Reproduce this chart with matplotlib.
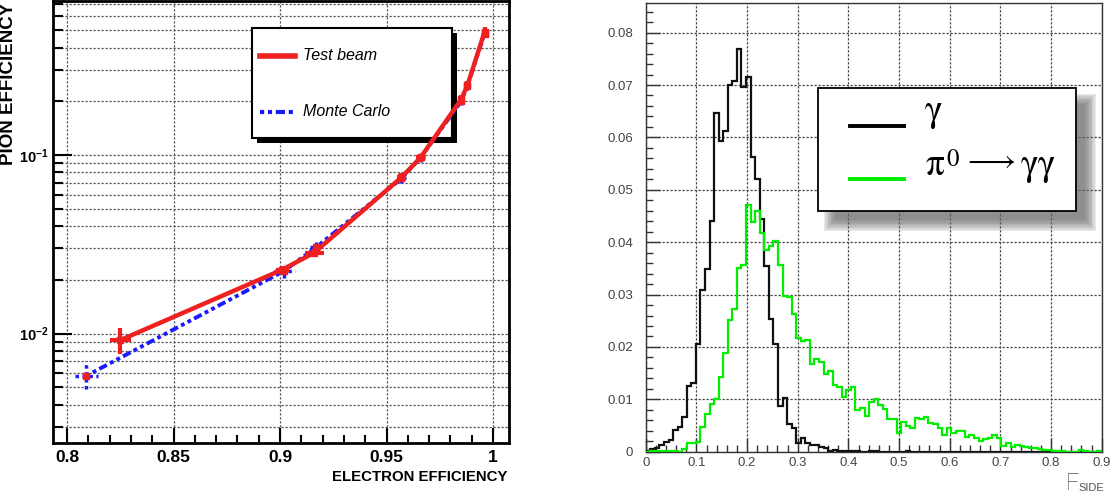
import matplotlib
matplotlib.use('Agg')
import matplotlib.pyplot as plt
import numpy as np
from matplotlib.patches import Rectangle
from matplotlib.lines import Line2D
from matplotlib.ticker import FixedLocator, MultipleLocator, FuncFormatter, NullFormatter

# ---------------- data: left panel (pion vs electron efficiency) ----------------
tb_x = [0.825, 0.901, 0.916, 0.957, 0.966, 0.985, 0.988, 0.996]
tb_y = [0.0092, 0.0228, 0.0284, 0.075, 0.097, 0.205, 0.246, 0.49]
tb_xerr = [0.005, 0.003, 0.0045, 0.002, 0.002, 0.001, 0.001, 0.001]
tb_yerr = [0.0015, 0.0012, 0.0015, 0.004, 0.005, 0.012, 0.015, 0.03]

mc_x = [0.809, 0.902, 0.917, 0.957, 0.966, 0.985, 0.988, 0.996]
mc_y = [0.0058, 0.0225, 0.0305, 0.074, 0.097, 0.20, 0.245, 0.48]
mc_xerr = [0.0055, 0.005, 0.003, 0.002, 0.002, 0.001, 0.001, 0.001]
mc_yerr_lo = [0.0009, 0.0021, 0.002, 0.004, 0.005, 0.01, 0.012, 0.02]
mc_yerr_hi = [0.0012, 0.0022, 0.002, 0.004, 0.005, 0.01, 0.012, 0.02]

left_xticks = [0.8, 0.85, 0.9, 0.95, 1.0]
left_xticklabels = ['0.8', '0.85', '0.9', '0.95', '1']

# ---------------- data: right panel (F_SIDE histograms, 100 bins on 0..0.9) ----------------
hist_lo, hist_hi, hist_nbins = 0.0, 0.9, 100
gamma_vals = [
    0.0002, 0.0005, 0.0007, 0.0012, 0.0018, 0.0022, 0.0041, 0.0047, 0.0066, 0.0126,
    0.0131, 0.0205, 0.0308, 0.0348, 0.0441, 0.0647, 0.0593, 0.0613, 0.0700, 0.0707,
    0.0769, 0.0696, 0.0715, 0.0563, 0.0521, 0.0444, 0.0355, 0.0254, 0.0206, 0.0087,
    0.0103, 0.0053, 0.0045, 0.0017, 0.0026, 0.0017, 0.0012, 0.0013, 0.0009, 0.0008,
    0.0002, 0.0003, 0.0002, 0.0001, 0.0002, 0.0001, 0.0002, 0.0, 0.0, 0.0002,
    0.0001, 0.0, 0.0, 0.0, 0.0, 0.0, 0.0, 0.0002, 0.0, 0.0,
    0.0, 0.0, 0.0, 0.0, 0.0, 0.0, 0.0, 0.0, 0.0, 0.0,
    0.0, 0.0, 0.0, 0.0, 0.0, 0.0, 0.0, 0.0, 0.0, 0.0,
    0.0, 0.0, 0.0, 0.0, 0.0, 0.0, 0.0, 0.0, 0.0, 0.0,
    0.0, 0.0, 0.0, 0.0, 0.0, 0.0, 0.0, 0.0, 0.0, 0.0,
]
pi0_vals = [
    0.0, 0.0001, 0.0001, 0.0002, 0.0002, 0.0002, 0.0002, 0.0, 0.0005, 0.0017,
    0.0017, 0.0019, 0.0048, 0.0072, 0.0092, 0.0101, 0.0143, 0.0188, 0.0252, 0.0272,
    0.0350, 0.0356, 0.0471, 0.0439, 0.0460, 0.0418, 0.0385, 0.0393, 0.0403, 0.0356,
    0.0297, 0.0295, 0.0263, 0.0218, 0.0212, 0.0214, 0.0168, 0.0177, 0.0172, 0.0148,
    0.0154, 0.0127, 0.0124, 0.0105, 0.0118, 0.0124, 0.0080, 0.0083, 0.0068, 0.0095,
    0.0100, 0.0090, 0.0082, 0.0062, 0.0062, 0.0035, 0.0057, 0.0050, 0.0046, 0.0064,
    0.0062, 0.0066, 0.0055, 0.0053, 0.0046, 0.0032, 0.0046, 0.0036, 0.0039, 0.0039,
    0.0029, 0.0032, 0.0026, 0.0021, 0.0025, 0.0026, 0.0032, 0.0027, 0.0011, 0.0016,
    0.0009, 0.0012, 0.0011, 0.0009, 0.0008, 0.0008, 0.0005, 0.0003, 0.0003, 0.0002,
    0.0001, 0.0001, 0.0, 0.0, 0.0, 0.0003, 0.0002, 0.0, 0.0, 0.0001,
]
right_xticks = [0, 0.1, 0.2, 0.3, 0.4, 0.5, 0.6, 0.7, 0.8, 0.9]
right_yticks = [0, 0.01, 0.02, 0.03, 0.04, 0.05, 0.06, 0.07, 0.08]

# ---------------- fonts ----------------
SANS = ['Liberation Sans', 'DejaVu Sans']
SERIF = ['STIXGeneral', 'DejaVu Serif', 'DejaVu Sans']
plt.rcParams['font.family'] = SANS
plt.rcParams['mathtext.fontset'] = 'custom'
plt.rcParams['mathtext.rm'] = 'Liberation Sans'
plt.rcParams['mathtext.bf'] = 'Liberation Sans:bold'
plt.rcParams['mathtext.it'] = 'Liberation Sans:italic'

W, H = 1111, 495
fig = plt.figure(figsize=(W / 100, H / 100), dpi=100)
fig.patch.set_facecolor('white')


def fx(px):
    return px / W


def fy(py):
    return 1 - py / H


grid_ls = (0, (1.8, 1.4))
mc_ls = (0, (1, 0.9, 1, 0.9, 2.2, 0.9))

# =============================== LEFT PANEL ===============================
axL = fig.add_axes([fx(53), fy(443), fx(509) - fx(53), fy(1) - fy(443)])
axL.set_yscale('log')
axL.set_xlim(0.7934, 1.0075)
axL.set_ylim(0.00244, 0.73)
axL.set_axisbelow(True)

for s in axL.spines.values():
    s.set_linewidth(2.0)
    s.set_color('black')

axL.xaxis.set_major_locator(FixedLocator(left_xticks))
axL.xaxis.set_major_formatter(FuncFormatter(
    lambda v, p: left_xticklabels[left_xticks.index(round(v, 2))] if round(v, 2) in left_xticks else ''))
axL.xaxis.set_minor_locator(MultipleLocator(0.01))
axL.yaxis.set_major_locator(FixedLocator([0.01, 0.1]))
axL.yaxis.set_major_formatter(FuncFormatter(lambda v, p: r'$\mathbf{10^{-%d}}$' % round(-np.log10(v))))
minor_y = [m * 10.0 ** e for e in (-3, -2, -1) for m in range(2, 10)]
axL.yaxis.set_minor_locator(FixedLocator(minor_y))
axL.yaxis.set_minor_formatter(NullFormatter())

axL.tick_params(which='both', direction='in', top=False, right=False, width=1.5, color='black')
axL.tick_params(axis='x', which='major', length=11, pad=5, labelsize=12.5)
axL.tick_params(axis='x', which='minor', length=6)
axL.tick_params(axis='y', which='major', length=14, pad=3, labelsize=10.5)
axL.tick_params(axis='y', which='minor', length=7)
for lab in axL.get_xticklabels():
    lab.set_fontweight('bold')

axL.grid(True, which='major', axis='x', linestyle=grid_ls, color='#555555', linewidth=0.9)
axL.grid(True, which='both', axis='y', linestyle=grid_ls, color='#555555', linewidth=0.9)

# Monte Carlo (blue dotted line, red markers, blue dotted error bars)
mc = axL.errorbar(mc_x, mc_y, xerr=mc_xerr, yerr=[mc_yerr_lo, mc_yerr_hi], fmt='none',
                  ecolor='#1a1aff', elinewidth=2.5, capsize=0, zorder=3)
for bc in mc[2]:
    bc.set_linestyle((0, (1, 1)))
axL.plot(mc_x, mc_y, color='#1a1aff', linewidth=2.8, linestyle=mc_ls, zorder=3)
axL.plot(mc_x, mc_y, linestyle='none', marker='s', markersize=5, color='#ee2020', zorder=4)

# Test beam (red solid line with error bars)
axL.errorbar(tb_x, tb_y, xerr=tb_xerr, yerr=tb_yerr, fmt='none', ecolor='#ee2020',
             elinewidth=3, capsize=0, zorder=5)
axL.plot(tb_x, tb_y, color='#ee2020', linewidth=3.2, marker='s', markersize=5, zorder=5)

# left legend (drawn under the curves)
axL.add_patch(Rectangle((fx(257), fy(143)), fx(457) - fx(257), fy(33) - fy(143),
                        transform=fig.transFigure, facecolor='black', edgecolor='none', zorder=1.5))
axL.add_patch(Rectangle((fx(252), fy(138)), fx(452) - fx(252), fy(28) - fy(138),
                        transform=fig.transFigure, facecolor='white', edgecolor='black',
                        linewidth=1.5, zorder=1.6))
axL.add_line(Line2D([fx(260), fx(295)], [fy(56), fy(56)], transform=fig.transFigure,
                    color='#ee2020', linewidth=4, zorder=1.7))
axL.add_line(Line2D([fx(260), fx(295)], [fy(112), fy(112)], transform=fig.transFigure,
                    color='#1a1aff', linewidth=3, linestyle=mc_ls, zorder=1.7))
axL.text(fx(303), fy(55), 'Test beam', transform=fig.transFigure, fontsize=11.5, style='italic',
         va='center', ha='left', zorder=1.8)
axL.text(fx(303), fy(111), 'Monte Carlo', transform=fig.transFigure, fontsize=11.5, style='italic',
         va='center', ha='left', zorder=1.8)

fig.text(fx(9), fy(3), 'PION EFFICIENCY', rotation=90, ha='center', va='top',
         fontsize=13.5, fontweight='bold')
fig.text(fx(508), fy(477), 'ELECTRON EFFICIENCY', ha='right', va='center',
         fontsize=10.8, fontweight='bold')

# =============================== RIGHT PANEL ===============================
axR = fig.add_axes([fx(645.7), fy(451.7), fx(1101.7) - fx(645.7), fy(3.3) - fy(451.7)])
axR.set_xlim(0, 0.9)
axR.set_ylim(0, 0.0856)
axR.set_axisbelow(True)
for s in axR.spines.values():
    s.set_linewidth(1.0)
    s.set_color('#333333')

edges = np.linspace(hist_lo, hist_hi, hist_nbins + 1)
axR.stairs(gamma_vals, edges, color='#111111', linewidth=1.6, zorder=3)
axR.stairs(pi0_vals, edges, color='#00ee00', linewidth=1.6, zorder=3)

axR.xaxis.set_major_locator(FixedLocator(right_xticks))
axR.xaxis.set_minor_locator(MultipleLocator(0.02))
axR.yaxis.set_major_locator(FixedLocator(right_yticks))
axR.yaxis.set_minor_locator(MultipleLocator(0.002))
axR.xaxis.set_major_formatter(FuncFormatter(lambda v, p: '0' if abs(v) < 1e-9 else ('%.1f' % v)))
axR.yaxis.set_major_formatter(FuncFormatter(lambda v, p: '0' if abs(v) < 1e-9 else ('%.2f' % v)))
axR.tick_params(which='both', direction='in', top=False, right=False, width=1.0,
                color='#333333', labelcolor='#444444', labelsize=9.5)
axR.tick_params(which='major', length=10)
axR.tick_params(which='minor', length=5)
axR.tick_params(axis='x', pad=4)
axR.tick_params(axis='y', pad=9)
axR.grid(True, which='major', linestyle=grid_ls, color='#444444', linewidth=0.9)

# right legend with blurred shadow
for r in np.linspace(7, -4, 9):
    axR.add_patch(Rectangle((fx(831 - r), fy(224 + r)), fx(258 + 2 * r), fy(0) - fy(123.5 + 2 * r),
                            transform=fig.transFigure, facecolor='#666666', edgecolor='none',
                            alpha=0.13, zorder=1.5))
axR.add_patch(Rectangle((fx(818), fy(211)), fx(1076) - fx(818), fy(87.7) - fy(211),
                        transform=fig.transFigure, facecolor='white', edgecolor='black',
                        linewidth=1.3, zorder=1.6))
axR.add_line(Line2D([fx(850), fx(904)], [fy(126), fy(126)], transform=fig.transFigure,
                    color='black', linewidth=2.8, zorder=1.7))
axR.add_line(Line2D([fx(850), fx(904)], [fy(179), fy(179)], transform=fig.transFigure,
                    color='#00ee00', linewidth=2.8, zorder=1.7))
legend_kw = dict(transform=fig.transFigure, family=SERIF, ha='left', va='baseline', zorder=1.8)
axR.text(fx(925), fy(121), 'γ', fontsize=27, **legend_kw)
axR.text(fx(926), fy(175), 'π', fontsize=27, **legend_kw)
axR.text(fx(946), fy(166), '0', fontsize=18, **legend_kw)
axR.text(fx(991), fy(163), '⟶', fontsize=22, transform=fig.transFigure, family=SERIF,
         ha='center', va='center', zorder=1.8)
axR.text(fx(1021), fy(175), 'γγ', fontsize=27, **legend_kw)

fig.text(fx(1066), fy(490), 'F', fontsize=17, color='#555555', ha='left', va='baseline',
         family=['Roboto', 'DejaVu Sans'], fontweight='light')
fig.text(fx(1078), fy(491), 'SIDE', fontsize=8, color='#555555', ha='left', va='baseline')

fig.savefig('out.png', dpi=100)
